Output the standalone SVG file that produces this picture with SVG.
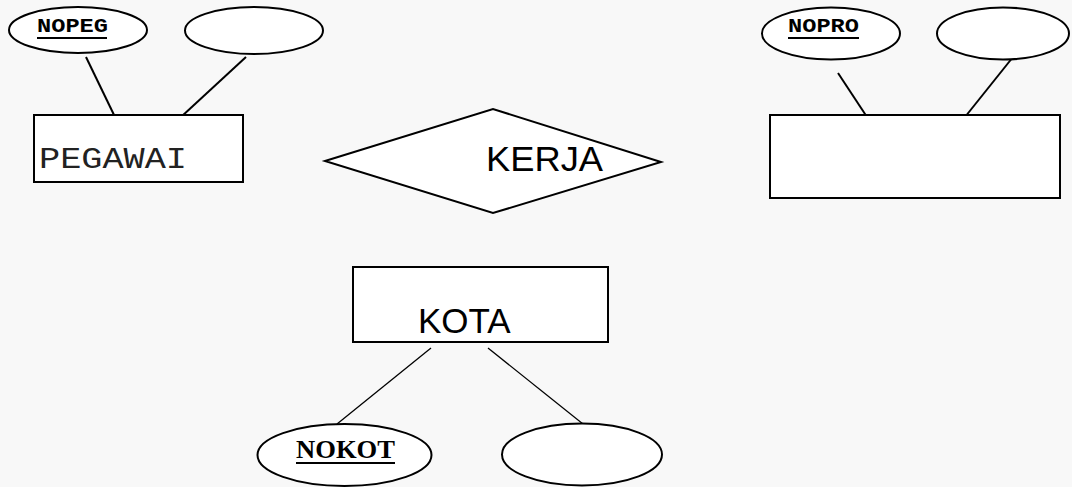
<svg xmlns="http://www.w3.org/2000/svg" width="1072" height="487" viewBox="0 0 1072 487">
<style>
.s{fill:#fff;stroke:#000;stroke-width:2}
.ln{stroke:#000;stroke-width:2;fill:none}
.thin{stroke:#000;stroke-width:1.3;fill:none}
.key{font-family:"Liberation Mono",monospace;font-weight:bold;font-size:20px;fill:#000}
.big{font-family:"Liberation Sans",Arial,sans-serif;font-size:35px;fill:#000}
</style>
<rect width="1072" height="487" fill="#f8f8f8"/>
<g id="connectors">
<line class="ln" x1="86" y1="57" x2="115" y2="117"/>
<line class="ln" x1="246" y1="57" x2="181" y2="117"/>
<line class="ln" x1="838" y1="73" x2="867" y2="117"/>
<line class="ln" x1="1013" y1="57" x2="965" y2="117"/>
<line class="thin" x1="431" y1="348" x2="337" y2="424"/>
<line class="thin" x1="488" y1="348" x2="583" y2="424"/>
</g>
<g id="attr-nopeg">
<ellipse class="s" cx="78" cy="30" rx="69" ry="23"/>
<text class="key" x="37" y="32" textLength="71" lengthAdjust="spacingAndGlyphs">NOPEG</text>
<line x1="37" y1="38" x2="107" y2="38" stroke="#000" stroke-width="2"/>
</g>
<g id="attr-pegawai-2">
<ellipse class="s" cx="254" cy="30.5" rx="69" ry="23.5"/>
</g>
<g id="entity-pegawai">
<rect class="s" x="34" y="115" width="209" height="67"/>
<text x="39" y="168" font-family="'Liberation Mono',monospace" font-size="30" fill="#222" textLength="148" lengthAdjust="spacingAndGlyphs">PEGAWAI</text>
</g>
<g id="relation-kerja">
<polygon class="s" points="325,161 493,109 661,162 493,213"/>
<text class="big" x="486" y="171" textLength="117" lengthAdjust="spacingAndGlyphs">KERJA</text>
</g>
<g id="attr-nopro">
<ellipse class="s" cx="831" cy="33.5" rx="69" ry="26"/>
<text class="key" x="788" y="32" textLength="71" lengthAdjust="spacingAndGlyphs">NOPRO</text>
<line x1="788" y1="38" x2="859" y2="38" stroke="#000" stroke-width="2"/>
</g>
<g id="attr-proyek-2">
<ellipse class="s" cx="1003" cy="33.5" rx="66" ry="26"/>
</g>
<g id="entity-proyek">
<rect class="s" x="770" y="115" width="290" height="83"/>
</g>
<g id="entity-kota">
<rect class="s" x="353" y="267" width="255" height="75"/>
<text class="big" x="418" y="333">KOTA</text>
</g>
<g id="attr-nokot">
<ellipse class="s" cx="344.5" cy="455" rx="87" ry="31"/>
<text x="296" y="458" font-family="'Liberation Serif',serif" font-weight="bold" font-size="26" fill="#000" textLength="99" lengthAdjust="spacingAndGlyphs">NOKOT</text>
<line x1="296" y1="463" x2="395" y2="463" stroke="#000" stroke-width="2"/>
</g>
<g id="attr-kota-2">
<ellipse class="s" cx="582" cy="454.5" rx="80" ry="31"/>
</g>
</svg>
